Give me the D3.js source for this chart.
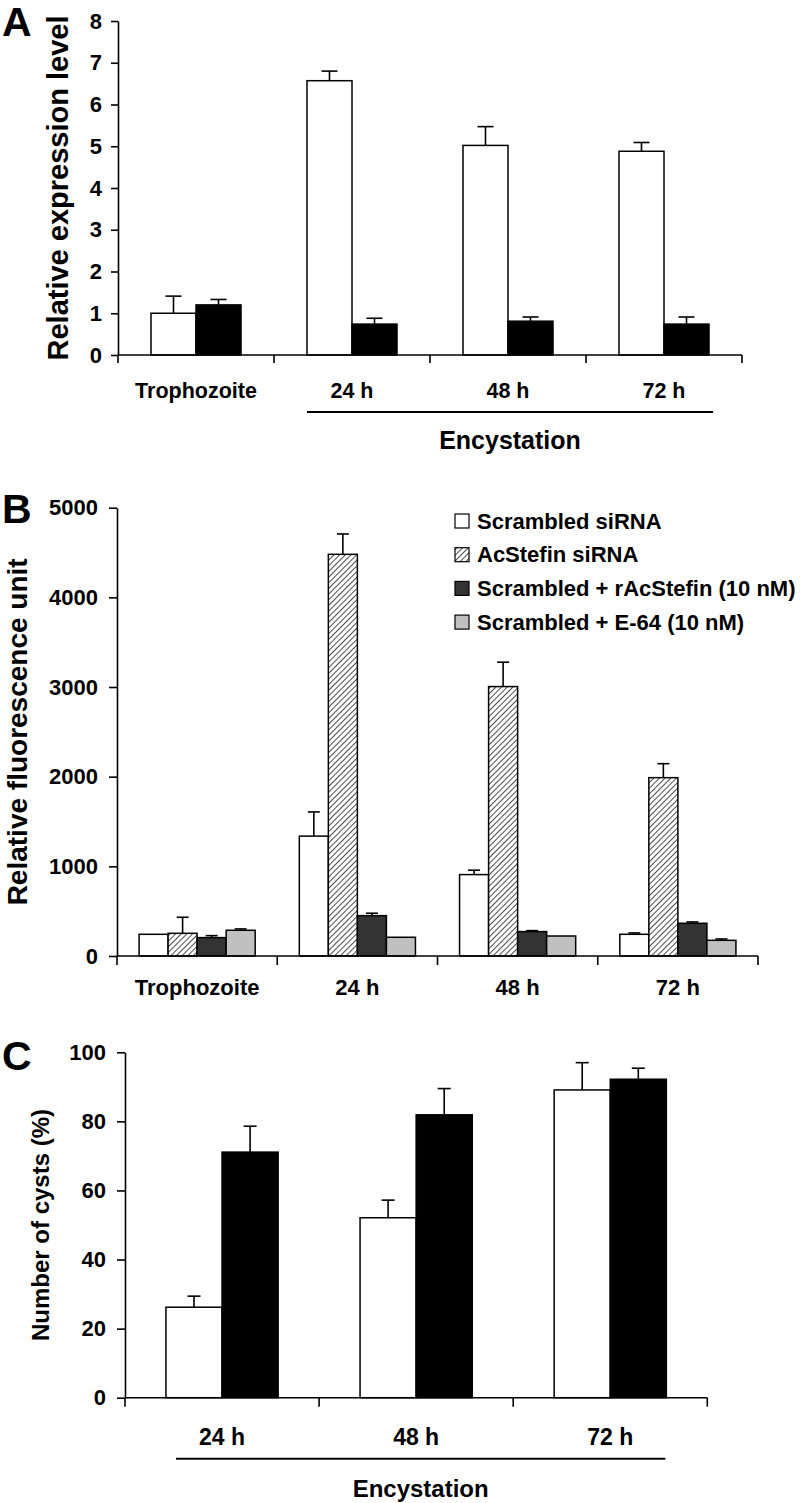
<!DOCTYPE html>
<html><head><meta charset="utf-8">
<script src="https://cdn.jsdelivr.net/npm/d3@7"></script>
<style>
html,body{margin:0;padding:0;background:#fff;}
svg text{font-family:"Liberation Sans",Arial,Helvetica,sans-serif;font-weight:bold;fill:#000;}
</style></head>
<body>
<svg id="chart" width="800" height="1503"></svg>
<script>
// ---------- Panel A ----------
const catsA = ["Trophozoite", "24 h", "48 h", "72 h"];
const seriesA = ["open", "filled"];
const aOpen = [1.0, 6.57, 5.02, 4.88];
const aOpenErr = [0.41, 0.23, 0.45, 0.21];
const aFilled = [1.2, 0.74, 0.81, 0.74];
const aFilledErr = [0.13, 0.14, 0.10, 0.17];
const ticksA = [0, 1, 2, 3, 4, 5, 6, 7, 8];

// ---------- Panel B ----------
const catsB = ["Trophozoite", "24 h", "48 h", "72 h"];
const seriesB = ["Scrambled siRNA", "AcStefin siRNA", "Scrambled + rAcStefin (10 nM)", "Scrambled + E-64 (10 nM)"];
const bScrambled = [242, 1337, 908, 242];
const bScrambledErr = [0, 270, 49, 15];
const bAcStefin = [253, 4480, 3005, 1989];
const bAcStefinErr = [179, 227, 272, 156];
const bRAcStefin = [205, 450, 272, 365];
const bRAcStefinErr = [22, 27, 11, 15];
const bE64 = [287, 209, 223, 175];
const bE64Err = [15, 0, 0, 15];
const ticksB = [0, 1000, 2000, 3000, 4000, 5000];

// ---------- Panel C ----------
const catsC = ["24 h", "48 h", "72 h"];
const seriesC = ["open", "filled"];
const cOpen = [26.2, 52.1, 89.1];
const cOpenErr = [3.2, 5.1, 7.9];
const cFilled = [71.1, 81.9, 92.2];
const cFilledErr = [7.5, 7.6, 3.2];
const ticksC = [0, 20, 40, 60, 80, 100];

const svg = d3.select("#chart");
const defs = svg.append("defs");
const pat = defs.append("pattern").attr("id", "hatch").attr("patternUnits", "userSpaceOnUse")
  .attr("width", 4).attr("height", 4).attr("patternTransform", "rotate(45)");
pat.append("rect").attr("width", 4).attr("height", 4).attr("fill", "#fff");
pat.append("line").attr("x1", 0).attr("y1", 0).attr("x2", 0).attr("y2", 4)
  .attr("stroke", "#000").attr("stroke-width", 1.4);

function panel(opt) {
  const g = svg.append("g");
  const x = d3.scaleBand().domain(opt.cats).range(opt.xRange).paddingInner(0).paddingOuter(0);
  const xs = d3.scaleBand().domain(opt.series.map((d, i) => i)).range([0, x.bandwidth()])
    .paddingInner(0).paddingOuter(opt.outer);
  const y = d3.scaleLinear().domain(opt.yDomain).range(opt.yRange);

  // y axis
  const ya = g.append("g").attr("transform", `translate(${opt.xRange[0]},0)`)
    .call(d3.axisLeft(y).tickValues(opt.ticks).tickFormat(d3.format("d"))
      .tickSize(opt.tickLen).tickSizeOuter(0).tickPadding(opt.tickPad));
  ya.select(".domain").attr("stroke", "#000").attr("stroke-width", 1.6);
  ya.selectAll(".tick line").attr("stroke", "#000").attr("stroke-width", 1.6);
  ya.selectAll(".tick text").attr("font-size", opt.tickFont).attr("font-family", null);

  // bars
  opt.series.forEach((s, si) => {
    const vals = opt.values[si], errs = opt.errs[si];
    const data = opt.cats.map((c, i) => ({c, v: vals[i], e: errs[i]}));
    const bg = g.append("g");
    bg.selectAll("line.err").data(data.filter(d => d.e > 0)).join("line")
      .attr("x1", d => x(d.c) + xs(si) + xs.bandwidth() / 2)
      .attr("x2", d => x(d.c) + xs(si) + xs.bandwidth() / 2)
      .attr("y1", d => y(d.v)).attr("y2", d => y(d.v + d.e))
      .attr("stroke", "#000").attr("stroke-width", 1.6);
    bg.selectAll("line.cap").data(data.filter(d => d.e > 0)).join("line")
      .attr("x1", d => x(d.c) + xs(si) + xs.bandwidth() / 2 - opt.cap / 2)
      .attr("x2", d => x(d.c) + xs(si) + xs.bandwidth() / 2 + opt.cap / 2)
      .attr("y1", d => y(d.v + d.e)).attr("y2", d => y(d.v + d.e))
      .attr("stroke", "#000").attr("stroke-width", 1.6);
    bg.selectAll("rect").data(data).join("rect")
      .attr("x", d => x(d.c) + xs(si)).attr("width", xs.bandwidth())
      .attr("y", d => y(d.v)).attr("height", d => y(0) - y(d.v))
      .attr("fill", opt.fills[si]).attr("stroke", "#000").attr("stroke-width", 1.5);
  });

  // x axis baseline + boundary ticks
  const y0 = y(0);
  g.append("line").attr("x1", opt.xRange[0]).attr("x2", opt.xRange[1])
    .attr("y1", y0).attr("y2", y0).attr("stroke", "#000").attr("stroke-width", 1.6);
  const bounds = opt.cats.map(c => x(c)).concat([opt.xRange[1]]);
  g.selectAll("line.bt").data(bounds).join("line")
    .attr("x1", d => d).attr("x2", d => d).attr("y1", y0).attr("y2", y0 + opt.tickLen + 1)
    .attr("stroke", "#000").attr("stroke-width", 1.6);
  g.selectAll("text.cat").data(opt.cats).join("text")
    .attr("x", d => x(d) + x.bandwidth() / 2).attr("y", y0 + opt.catDy)
    .attr("text-anchor", "middle").attr("font-size", opt.catFont).text(d => d);

  // y title
  const ym = (opt.yRange[0] + opt.yRange[1]) / 2;
  g.append("text").attr("transform", `translate(${opt.titleX},${ym}) rotate(-90)`)
    .attr("text-anchor", "middle").attr("dominant-baseline", "central")
    .attr("font-size", opt.titleFont).text(opt.title);

  // panel letter
  g.append("text").attr("x", 2).attr("y", opt.letterY).attr("font-size", 41).text(opt.letter);

  // encystation bracket
  if (opt.enc) {
    const c1 = opt.enc.from, c2 = opt.enc.to;
    const xa = x(c1) + xs(0) + opt.enc.inset;
    const xb = x(c2) + xs(opt.series.length - 1) + xs.bandwidth() + opt.enc.outset;
    g.append("line").attr("x1", xa).attr("x2", xb).attr("y1", y0 + opt.enc.lineDy).attr("y2", y0 + opt.enc.lineDy)
      .attr("stroke", "#000").attr("stroke-width", 2);
    g.append("text").attr("x", (xa + xb) / 2).attr("y", y0 + opt.enc.textDy).attr("text-anchor", "middle")
      .attr("font-size", opt.enc.font).text("Encystation");
  }
  return {g, x, xs, y};
}

panel({
  cats: catsA, series: seriesA, values: [aOpen, aFilled], errs: [aOpenErr, aFilledErr],
  fills: ["#fff", "#000"], xRange: [118, 742], outer: 0.733,
  yDomain: [0, 8], yRange: [355, 21], ticks: ticksA, tickLen: 7, tickPad: 9, tickFont: 22,
  cap: 16, catDy: 43, catFont: 21.5, title: "Relative expression level", titleX: 58, titleFont: 29,
  letter: "A", letterY: 36,
  enc: {from: "24 h", to: "72 h", inset: 0, outset: 4, lineDy: 57, textDy: 94, font: 25}
});

const pB = panel({
  cats: catsB, series: seriesB, values: [bScrambled, bAcStefin, bRAcStefin, bE64],
  errs: [bScrambledErr, bAcStefinErr, bRAcStefinErr, bE64Err],
  fills: ["#fff", "url(#hatch)", "#333", "#c0c0c0"], xRange: [117, 758], outer: 0.76,
  yDomain: [0, 5000], yRange: [956, 507.7], ticks: ticksB, tickLen: 8, tickPad: 11, tickFont: 22,
  cap: 12, catDy: 39, catFont: 22, title: "Relative fluorescence unit", titleX: 17, titleFont: 28,
  letter: "B", letterY: 523
});

// legend B
const leg = pB.g.append("g").attr("transform", "translate(455,521)");
const fillsB = ["#fff", "url(#hatch)", "#333", "#c0c0c0"];
const li = leg.selectAll("g").data(seriesB).join("g").attr("transform", (d, i) => `translate(0,${i * 33.7})`);
li.append("rect").attr("x", 0).attr("y", -7).attr("width", 14).attr("height", 14)
  .attr("fill", (d, i) => fillsB[i]).attr("stroke", "#000").attr("stroke-width", 1.2);
li.append("text").attr("x", 22).attr("y", 0).attr("dominant-baseline", "central")
  .attr("font-size", 22).text(d => d);

panel({
  cats: catsC, series: seriesC, values: [cOpen, cFilled], errs: [cOpenErr, cFilledErr],
  fills: ["#fff", "#000"], xRange: [125, 707.3], outer: 0.73,
  yDomain: [0, 100], yRange: [1397.7, 1052.3], ticks: ticksC, tickLen: 8, tickPad: 11, tickFont: 22,
  cap: 13, catDy: 47, catFont: 23, title: "Number of cysts (%)", titleX: 40, titleFont: 24,
  letter: "C", letterY: 1070,
  enc: {from: "24 h", to: "72 h", inset: 10, outset: -1, lineDy: 61, textDy: 99, font: 24}
});
</script>
</body></html>
